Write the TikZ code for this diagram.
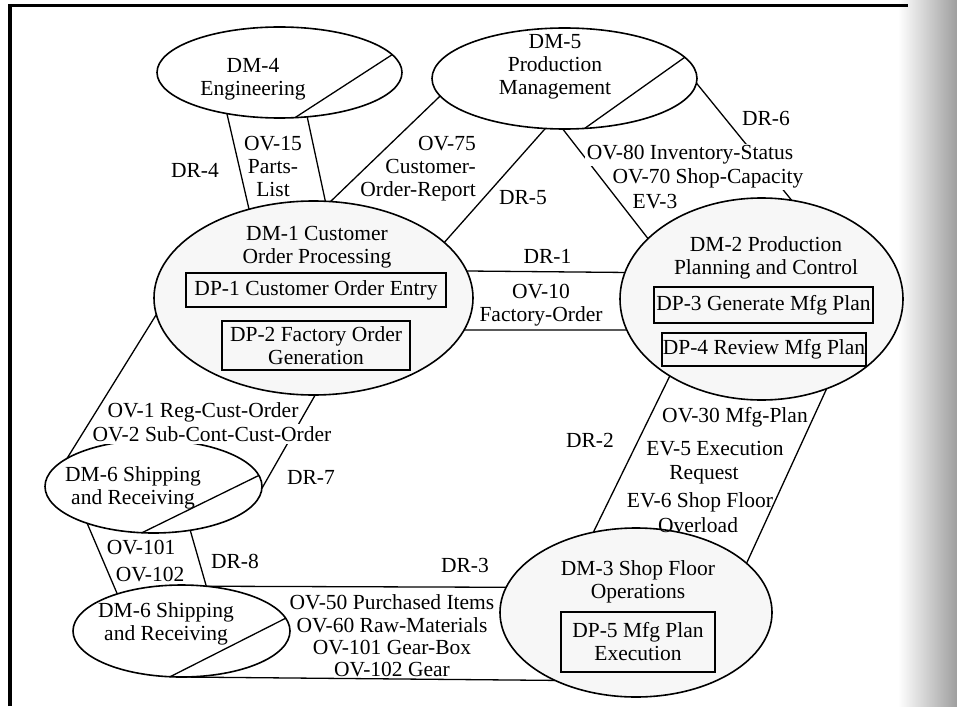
\documentclass[tikz,border=0pt]{standalone}
\usepackage{fontspec}
\setmainfont{Liberation Serif}
\usetikzlibrary{shapes.geometric}
\begin{document}
\begin{tikzpicture}[x=1pt,y=-1pt,
  every node/.style={font=\fontsize{21.5}{23}\selectfont, inner sep=1pt},
  ell/.style={ellipse, draw, line width=1.6pt, outer sep=0pt, inner sep=0pt},
  shadedell/.style={fill=black!3},
  dpbox/.style={draw, line width=1.5pt, align=center, inner sep=1pt, outer sep=0pt},
  lbl/.style={align=center},
  conn/.style={line width=1.3pt},
  mask/.style={fill=white, inner sep=2pt}]

\useasboundingbox (0,0) rectangle (957,706);
\shade[left color=white, middle color=black!9, right color=black!38] (898,0) rectangle (957,706);
\draw[line width=3.2pt] (10,706) -- (10,5.5) -- (908,5.5);

% ellipses
\node[ell, minimum width=245pt, minimum height=91pt] (dm4) at (279.5,72.5) {};
\node[ell, minimum width=265pt, minimum height=101pt] (dm5) at (564.5,78.5) {};
\node[ell, shadedell, minimum width=319pt, minimum height=194pt] (dm1) at (313.5,298) {};
\node[ell, shadedell, minimum width=283pt, minimum height=202pt] (dm2) at (761.5,299) {};
\node[ell, shadedell, minimum width=272pt, minimum height=169pt] (dm3) at (636,612.5) {};
\node[ell, minimum width=217pt, minimum height=93pt] (dm6a) at (153.5,486.5) {};
\node[ell, minimum width=217pt, minimum height=92pt] (dm6b) at (181.5,631) {};

% inner boxes
\node[dpbox, minimum width=260pt, minimum height=34pt] (dp1) at (316,290) {DP-1 Customer Order Entry};
\node[dpbox, minimum width=188pt, minimum height=49pt] (dp2) at (316,345.5) {DP-2 Factory Order\\Generation};
\node[dpbox, minimum width=219pt, minimum height=36pt] (dp3) at (763.5,305) {DP-3 Generate Mfg Plan};
\node[dpbox, minimum width=204pt, minimum height=33pt] (dp4) at (764,349.5) {DP-4 Review Mfg Plan};
\node[dpbox, minimum width=154pt, minimum height=60pt] (dp5) at (638,642) {DP-5 Mfg Plan\\Execution};

% diagonals inside ellipses
\draw[conn] (dm4.9) -- (dm4.289);
\draw[conn] (dm5.10) -- (dm5.292);
\draw[conn] (dm6a.6) -- (dm6a.256);
\draw[conn] (dm6b.7) -- (dm6b.256);

% connectors
\draw[conn] (dm4.218) -- (dm1.126);
\draw[conn] (dm4.302) -- (dm1.83);
\draw[conn] (dm1.80) -- (dm5.188);
\draw[conn] (dm1.23) -- (dm5.249);
\draw[conn] (dm5.268) -- (dm2.152);
\draw[conn] (dm5.358) -- (dm2.73);
\draw[conn] (dm1.10) -- (dm2.169);
\draw[conn] (dm1.348) -- (dm2.193);
\draw[conn] (dm2.220) -- (dm3.118);
\draw[conn] (dm2.306) -- (dm3.24);
\draw[conn] (dm1.186) -- (dm6a.162);
\draw[conn] (dm1.271) -- (dm6a.359);
\draw[conn] (dm6a.209) -- (dm6b.150);
\draw[conn] (dm6a.310) -- (dm6b.61);
\draw[conn] (dm6b.61) -- (dm3.169);
\draw[conn] (dm6b.265) -- (dm3.220);

% texts in ellipses
\node[lbl] (t4) at (253,79) {DM-4\\Engineering};
\node[lbl] (t5) at (555,67) {DM-5\\Production\\Management};
\node[lbl] (t1) at (317,247) {DM-1 Customer\\Order Processing};
\node[lbl] (t2) at (766,258) {DM-2 Production\\Planning and Control};
\node[lbl] (t3) at (638,582) {DM-3 Shop Floor\\Operations};
\node[lbl] (t6a) at (133,488) {DM-6 Shipping\\and Receiving};
\node[lbl] (t6b) at (166,624) {DM-6 Shipping\\and Receiving};

% connector labels
\node (dr4) at (195,170.5) {DR-4};
\node[lbl] (ov15) at (273,166) {OV-15\\Parts-\\List};
\node[lbl, align=right, anchor=east] (ov75) at (477,169) {OV-75\\Customer-\\Order-Report};
\node (dr5) at (523,198) {DR-5};
\node[mask] (ov80) at (690,155) {OV-80 Inventory-Status};
\node[mask] (ov70) at (708,178) {OV-70 Shop-Capacity};
\node (ev3) at (655,201.5) {EV-3};
\node (dr6) at (766,118.5) {DR-6};
\node (dr1) at (547.5,256.5) {DR-1};
\node[lbl] (ov10) at (541,305) {OV-10\\Factory-Order};
\node (ov1) at (203,412) {OV-1 Reg-Cust-Order};
\node[mask] (ov2) at (212,434) {OV-2 Sub-Cont-Cust-Order};
\node (dr7) at (311,477.5) {DR-7};
\node (ov101) at (141,547.5) {OV-101};
\node (ov102) at (150,574.5) {OV-102};
\node (dr8) at (235,561.5) {DR-8};
\node (dr3) at (465,565) {DR-3};
\node[lbl, font=\fontsize{21.5}{22.3}\selectfont] (ov50) at (392,636) {OV-50 Purchased Items\\OV-60 Raw-Materials\\OV-101 Gear-Box\\OV-102 Gear};
\node (dr2) at (590,440) {DR-2};
\node (ov30) at (735,417) {OV-30 Mfg-Plan};
\node (ev5) at (715,448.5) {EV-5 Execution};
\node (req) at (704,475) {Request};
\node (ev6) at (700,502) {EV-6 Shop Floor};
\node (ovl) at (698,525) {Overload};
\end{tikzpicture}
\end{document}
